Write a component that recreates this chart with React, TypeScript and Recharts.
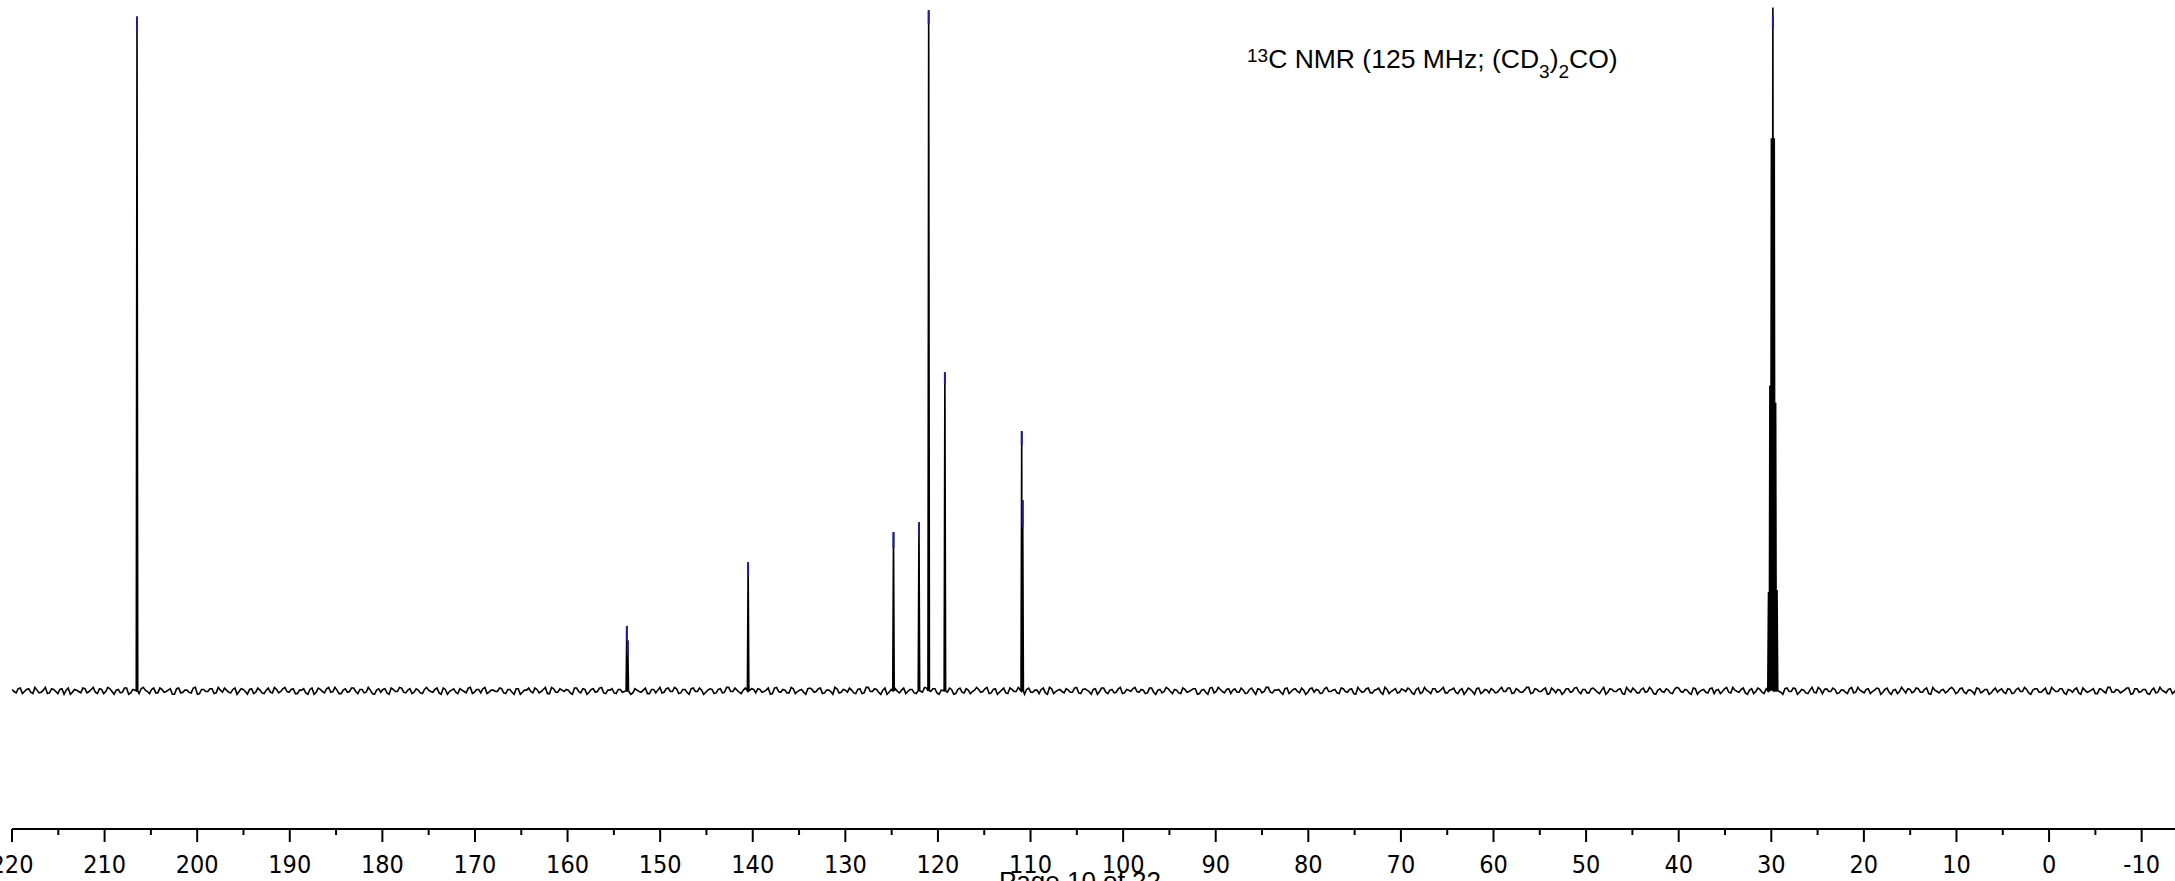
import { LineChart, Line, XAxis, YAxis } from 'recharts';

// chemical shift axis (ppm), left end 220, right edge ~ -13.6
const axisTicks = [
  220, 215, 210, 205, 200, 195, 190, 185, 180, 175, 170, 165, 160, 155, 150, 145,
  140, 135, 130, 125, 120, 115, 110, 105, 100, 95, 90, 85, 80, 75, 70, 65, 60, 55,
  50, 45, 40, 35, 30, 25, 20, 15, 10, 5, 0, -5, -10,
];

// resonances (ppm, relative intensity)
const peakPpm = [206.5, 153.6, 153.5, 140.5, 124.8, 122.05, 121.0, 119.25, 110.95, 110.85,
  30.3, 30.15, 29.99, 29.83, 29.68, 29.53, 29.38];
const peakHeight = [97.6, 9.4, 7.3, 18.6, 23.0, 24.4, 98.5, 46.1, 37.6, 27.6,
  14.3, 44.2, 80, 98.9, 80, 41.7, 14.6];

// blue peak-pick markers at the tips
const markerPpm = [206.5, 153.6, 153.5, 140.5, 124.8, 122.05, 121.0, 119.25, 110.95, 110.85, 29.83];
const markerTop = [97.6, 9.4, 7.3, 18.6, 23.0, 24.4, 98.5, 46.1, 37.6, 27.6, 97.9];
const markerBottom = [95.6, 7.3, 5.2, 16.6, 20.7, 22.3, 96.5, 44.4, 35.6, 23.7, 95.8];

// baseline noise: two interleaved runs, one value every 0.45 ppm each
const noiseStart = 220;
const noiseStep = 0.45;
const noiseA = [
  0.2,-0.3,0.4,-0.1,0.3,-0.4,0.1,-0.2,0.5,-0.3,0.2,-0.4,0.3,0.1,-0.5,0.2,-0.1,0.4,-0.3,0.2,-0.2,0.3,-0.4,0.5,-0.1,0.1,-0.3,0.4,-0.5,0.2,-0.2,0.3,0.1,-0.4,0.4,-0.3,0.2,-0.1,0.3,-0.5,
  0.4,-0.2,0.1,-0.3,0.5,-0.4,0.2,-0.1,0.3,-0.3,0.1,0.4,-0.2,0.2,-0.5,0.3,-0.1,0.2,-0.4,0.4,-0.3,0.1,-0.2,0.5,-0.3,0.3,-0.1,0.2,-0.4,0.1,0.3,-0.5,0.4,-0.2,0.2,-0.3,0.5,-0.1,0.1,-0.4,
  0.3,-0.1,0.4,-0.4,0.2,-0.2,0.1,-0.5,0.3,0.2,-0.3,0.4,-0.1,0.5,-0.2,0.1,-0.4,0.3,-0.3,0.2,0.1,-0.2,0.4,-0.5,0.2,-0.1,0.3,-0.4,0.1,-0.3,0.5,-0.2,0.2,0.3,-0.4,0.1,-0.1,0.4,-0.3,0.2,
  -0.2,0.3,-0.5,0.1,0.4,-0.3,0.2,-0.1,0.5,-0.4,0.3,-0.2,0.1,0.2,-0.3,0.4,-0.1,0.3,-0.5,0.2,-0.2,0.4,-0.3,0.1,0.3,-0.4,0.2,-0.1,0.5,-0.3,0.1,-0.2,0.4,-0.4,0.2,0.1,-0.3,0.3,-0.1,0.5,
  -0.4,0.2,-0.2,0.3,-0.1,0.4,-0.5,0.1,0.2,-0.3,0.3,-0.2,0.5,-0.1,0.1,-0.4,0.4,-0.3,0.2,0.3,-0.2,0.1,-0.5,0.4,-0.1,0.2,-0.3,0.5,-0.4,0.1,-0.2,0.3,0.2,-0.1,0.4,-0.3,0.1,-0.5,0.3,-0.2,
  0.1,0.4,-0.3,0.2,-0.4,0.5,-0.1,0.3,-0.2,0.1,-0.5,0.2,0.3,-0.3,0.4,-0.1,0.2,-0.4,0.1,0.5,-0.2,0.3,-0.3,0.1,-0.1,0.4,-0.5,0.2,-0.2,0.3,-0.4,0.1,0.2,-0.1,0.5,-0.3,0.3,-0.2,0.4,-0.4,
  0.2,-0.1,0.3,-0.5,0.4,-0.2,0.1,0.2,-0.3,0.5,-0.4,0.1,-0.1,0.3,-0.2,0.4,-0.3,0.2,0.1,-0.5,0.3,-0.1,0.4,-0.4,0.2,-0.2,0.5,-0.3,0.1,0.3,-0.1,0.2,-0.4,0.4,-0.2,0.1,-0.3,0.5,-0.1,0.2,
  -0.3,0.4,-0.2,0.1,0.3,-0.4,0.2,-0.5,0.5,-0.1,0.2,-0.3,0.3,0.1,-0.2,0.4,-0.4,0.2,-0.1,0.3,-0.3,0.5,-0.2,0.1,0.2,-0.5,0.4,-0.1,0.3,-0.3,0.1,-0.2,0.4,0.2,-0.4,0.3,-0.1,0.1,-0.3,0.4,
  -0.1,0.2,-0.4,0.5,-0.2,0.3,-0.3,0.1,0.4,-0.5,0.2,-0.1,0.3,-0.2,0.1,0.4,-0.3,0.2,-0.4,0.5,-0.1,0.3,-0.2,0.2,-0.3,0.1,0.4,-0.4,0.3,-0.1,0.2,-0.5,0.4,-0.2,0.1,0.3,-0.3,0.2,-0.1,0.4,
  -0.4,0.3,-0.2,0.1,0.5,-0.3,0.2,-0.1,0.4,-0.4,0.1,0.2,-0.5,0.3,-0.2,0.4,-0.1,0.2,-0.3,0.3,0.1,-0.4,0.5,-0.2,0.2,-0.1,0.3,-0.5,0.1,0.4,-0.3,0.2,-0.2,0.5,-0.4,0.1,-0.1,0.3,-0.3,0.2,
  0.4,-0.2,0.1,-0.5,0.3,-0.1,0.2,-0.3,0.4,0.1,-0.4,0.3,-0.2,0.5,-0.1,0.2,-0.3,0.1,-0.4,0.4,-0.2,0.3,0.1,-0.3,0.2,-0.5,0.4,-0.1,0.3,-0.2,0.1,-0.4,0.5,-0.3,0.2,0.2,-0.1,0.4,-0.4,0.1,
  -0.2,0.3,-0.3,0.5,-0.1,0.2,-0.4,0.1,0.3,-0.2,0.4,-0.5,0.2,-0.1,0.1,0.3,-0.3,0.4,-0.2,0.2,-0.4,0.5,-0.1,0.1,-0.3,0.3,0.2,-0.2,0.4,-0.4,0.1,-0.5,0.3,-0.1,0.2,-0.3,0.4,0.1,-0.2,0.3,
  -0.4,0.2,-0.1,0.5,-0.3,0.1,0.3,-0.2,0.4,-0.4,0.2,-0.1,0.3,-0.5,0.1,0.2,-0.3,0.4,-0.2,0.1,-0.4,0.3,-0.1,0.5,-0.2,0.2,-0.3,0.1,0.4,-0.4,0.3,-0.1,0.2,-0.5,0.4,-0.2,0.1,-0.3,0.3,-0.1,
];
const noiseB = [
  -0.1,0.3,-0.4,0.2,-0.2,0.5,-0.3,0.1,-0.4,0.3,-0.1,0.2,-0.5,0.4,-0.2,0.1,-0.3,0.3,-0.1,0.5,-0.4,0.2,-0.1,0.3,-0.5,0.2,-0.2,0.4,-0.3,0.1,-0.4,0.5,-0.1,0.2,-0.3,0.4,-0.2,0.1,-0.5,0.3,
  -0.3,0.1,-0.2,0.4,-0.5,0.2,-0.1,0.3,-0.4,0.5,-0.2,0.1,-0.3,0.4,-0.1,0.2,-0.5,0.3,-0.2,0.1,-0.4,0.4,-0.3,0.2,-0.1,0.5,-0.2,0.3,-0.4,0.1,-0.3,0.2,-0.5,0.4,-0.1,0.3,-0.2,0.5,-0.4,0.1,
  -0.2,0.4,-0.1,0.2,-0.3,0.5,-0.4,0.1,-0.2,0.3,-0.5,0.2,-0.1,0.4,-0.3,0.3,-0.2,0.1,-0.4,0.5,-0.1,0.2,-0.3,0.4,-0.5,0.1,-0.2,0.3,-0.1,0.4,-0.4,0.2,-0.3,0.5,-0.2,0.1,-0.1,0.3,-0.4,0.2,
  -0.5,0.3,-0.2,0.1,-0.1,0.4,-0.3,0.2,-0.4,0.5,-0.2,0.3,-0.1,0.1,-0.5,0.4,-0.3,0.2,-0.2,0.3,-0.1,0.5,-0.4,0.1,-0.3,0.2,-0.2,0.4,-0.5,0.3,-0.1,0.1,-0.4,0.2,-0.3,0.5,-0.2,0.4,-0.1,0.3,
  -0.3,0.2,-0.5,0.4,-0.1,0.1,-0.2,0.3,-0.4,0.2,-0.3,0.5,-0.1,0.4,-0.2,0.1,-0.5,0.3,-0.3,0.2,-0.1,0.4,-0.4,0.5,-0.2,0.1,-0.3,0.3,-0.1,0.2,-0.5,0.4,-0.2,0.3,-0.4,0.1,-0.1,0.5,-0.3,0.2,
  -0.2,0.1,-0.4,0.3,-0.3,0.5,-0.1,0.2,-0.5,0.4,-0.2,0.3,-0.1,0.1,-0.4,0.2,-0.3,0.5,-0.2,0.4,-0.1,0.3,-0.5,0.1,-0.2,0.2,-0.4,0.4,-0.3,0.1,-0.1,0.5,-0.2,0.3,-0.4,0.2,-0.5,0.1,-0.3,0.4,
  -0.1,0.5,-0.3,0.2,-0.2,0.1,-0.4,0.4,-0.5,0.3,-0.1,0.2,-0.3,0.1,-0.2,0.5,-0.4,0.3,-0.1,0.2,-0.5,0.4,-0.2,0.1,-0.3,0.3,-0.4,0.2,-0.1,0.5,-0.2,0.1,-0.3,0.4,-0.5,0.2,-0.1,0.3,-0.4,0.1,
  -0.4,0.2,-0.1,0.3,-0.5,0.1,-0.2,0.4,-0.3,0.5,-0.1,0.2,-0.4,0.3,-0.2,0.1,-0.3,0.4,-0.5,0.2,-0.1,0.5,-0.3,0.1,-0.2,0.3,-0.4,0.2,-0.1,0.4,-0.5,0.3,-0.2,0.1,-0.3,0.5,-0.1,0.2,-0.4,0.3,
  -0.2,0.3,-0.5,0.1,-0.1,0.4,-0.3,0.2,-0.2,0.5,-0.4,0.1,-0.3,0.3,-0.1,0.2,-0.5,0.4,-0.2,0.1,-0.4,0.3,-0.1,0.5,-0.3,0.2,-0.2,0.1,-0.5,0.4,-0.1,0.3,-0.4,0.2,-0.3,0.1,-0.2,0.5,-0.1,0.4,
  -0.3,0.1,-0.2,0.5,-0.4,0.3,-0.1,0.2,-0.5,0.4,-0.3,0.1,-0.2,0.3,-0.1,0.5,-0.4,0.2,-0.3,0.4,-0.2,0.1,-0.5,0.3,-0.1,0.2,-0.4,0.5,-0.2,0.1,-0.3,0.4,-0.1,0.2,-0.5,0.3,-0.2,0.1,-0.4,0.5,
  -0.1,0.2,-0.3,0.4,-0.5,0.1,-0.2,0.3,-0.4,0.2,-0.1,0.5,-0.3,0.1,-0.2,0.4,-0.5,0.3,-0.1,0.2,-0.4,0.1,-0.3,0.5,-0.2,0.3,-0.1,0.4,-0.5,0.2,-0.3,0.1,-0.2,0.5,-0.4,0.3,-0.1,0.2,-0.3,0.1,
  -0.4,0.5,-0.2,0.1,-0.3,0.3,-0.1,0.4,-0.5,0.2,-0.2,0.1,-0.4,0.5,-0.3,0.2,-0.1,0.3,-0.2,0.4,-0.5,0.1,-0.3,0.2,-0.1,0.5,-0.4,0.3,-0.2,0.1,-0.1,0.4,-0.3,0.2,-0.5,0.1,-0.2,0.3,-0.4,0.2,
  -0.3,0.4,-0.1,0.2,-0.5,0.3,-0.2,0.1,-0.4,0.5,-0.1,0.3,-0.3,0.2,-0.2,0.4,-0.5,0.1,-0.1,0.3,-0.4,0.2,-0.3,0.5,-0.2,0.1,-0.1,0.4,-0.5,0.3,-0.2,0.2,-0.4,0.1,-0.3,0.5,-0.1,0.2,-0.4,0.3,
];

const PEAK_HALF_WIDTH = 0.08;

// merge noise + peaks into one trace sorted by ppm (high to low)
const noisePts = [
  ...noiseA.map((v, i) => ({ ppm: noiseStart - i * noiseStep, y: v })),
  ...noiseB.map((v, i) => ({ ppm: noiseStart - noiseStep / 2 - i * noiseStep, y: v })),
].filter(p => peakPpm.every(c => Math.abs(p.ppm - c) > 0.2));
const peakPts = peakPpm.flatMap((c, i) => [
  { ppm: c + PEAK_HALF_WIDTH, y: 0 },
  { ppm: c, y: peakHeight[i] },
  { ppm: c - PEAK_HALF_WIDTH, y: 0 },
]);
const spectrum = [...noisePts, ...peakPts].sort((a, b) => b.ppm - a.ppm);

const AxisTick = (props: any) => {
  const { x, y, payload } = props;
  const v = payload.value as number;
  const major = v % 10 === 0;
  return (
    <g>
      <line x1={x} y1={y} x2={x} y2={y + (major ? 13 : 6)} stroke="#000" strokeWidth={2} />
      {major && (
        <text x={x} y={y + 44} textAnchor="middle" fill="#000" fontSize={25}
          fontFamily="'DejaVu Sans Condensed', 'DejaVu Sans', sans-serif">
          {v}
        </text>
      )}
    </g>
  );
};

export default function App() {
  return (
    <div style={{ position: 'absolute', left: 0, top: 0, width: 2175, height: 881, background: '#fff', overflow: 'hidden' }}>
      <LineChart width={2175} height={881} margin={{ top: 0, right: 0, bottom: 0, left: 12 }}>
        <XAxis type="number" dataKey="ppm" domain={[-13.6, 220]} reversed allowDataOverflow
          ticks={axisTicks} interval={0} tick={AxisTick} tickLine={false} tickSize={0} tickMargin={0}
          height={52} axisLine={{ stroke: '#000', strokeWidth: 2 }} />
        <YAxis type="number" hide domain={[-20, 100]} allowDataOverflow />
        <Line data={spectrum} dataKey="y" type="linear" stroke="#000" strokeWidth={1.6}
          dot={false} activeDot={false} isAnimationActive={false} />
        {markerPpm.map((p, i) => (
          <Line key={i} data={[{ ppm: p, y: markerTop[i] }, { ppm: p, y: markerBottom[i] }]}
            dataKey="y" type="linear" stroke="#1f1f9a" strokeWidth={2}
            dot={false} activeDot={false} isAnimationActive={false} />
        ))}
      </LineChart>
      <svg width={2175} height={881} style={{ position: 'absolute', left: 0, top: 0, pointerEvents: 'none' }}>
        <text x={1247} y={68} fontFamily="'Liberation Sans', Arial, sans-serif" fontSize={26.5} fill="#000">
          <tspan fontSize={19} dy={-6}>13</tspan>
          <tspan dy={6}>C NMR (125 MHz; (CD</tspan>
          <tspan fontSize={19} dy={10}>3</tspan>
          <tspan dy={-10}>)</tspan>
          <tspan fontSize={19} dy={10}>2</tspan>
          <tspan dy={-10}>CO)</tspan>
        </text>
        <text x={999} y={890} fontFamily="'Liberation Sans', Arial, sans-serif" fontSize={26} fill="#000">
          Page 10 of 22
        </text>
      </svg>
    </div>
  );
}
